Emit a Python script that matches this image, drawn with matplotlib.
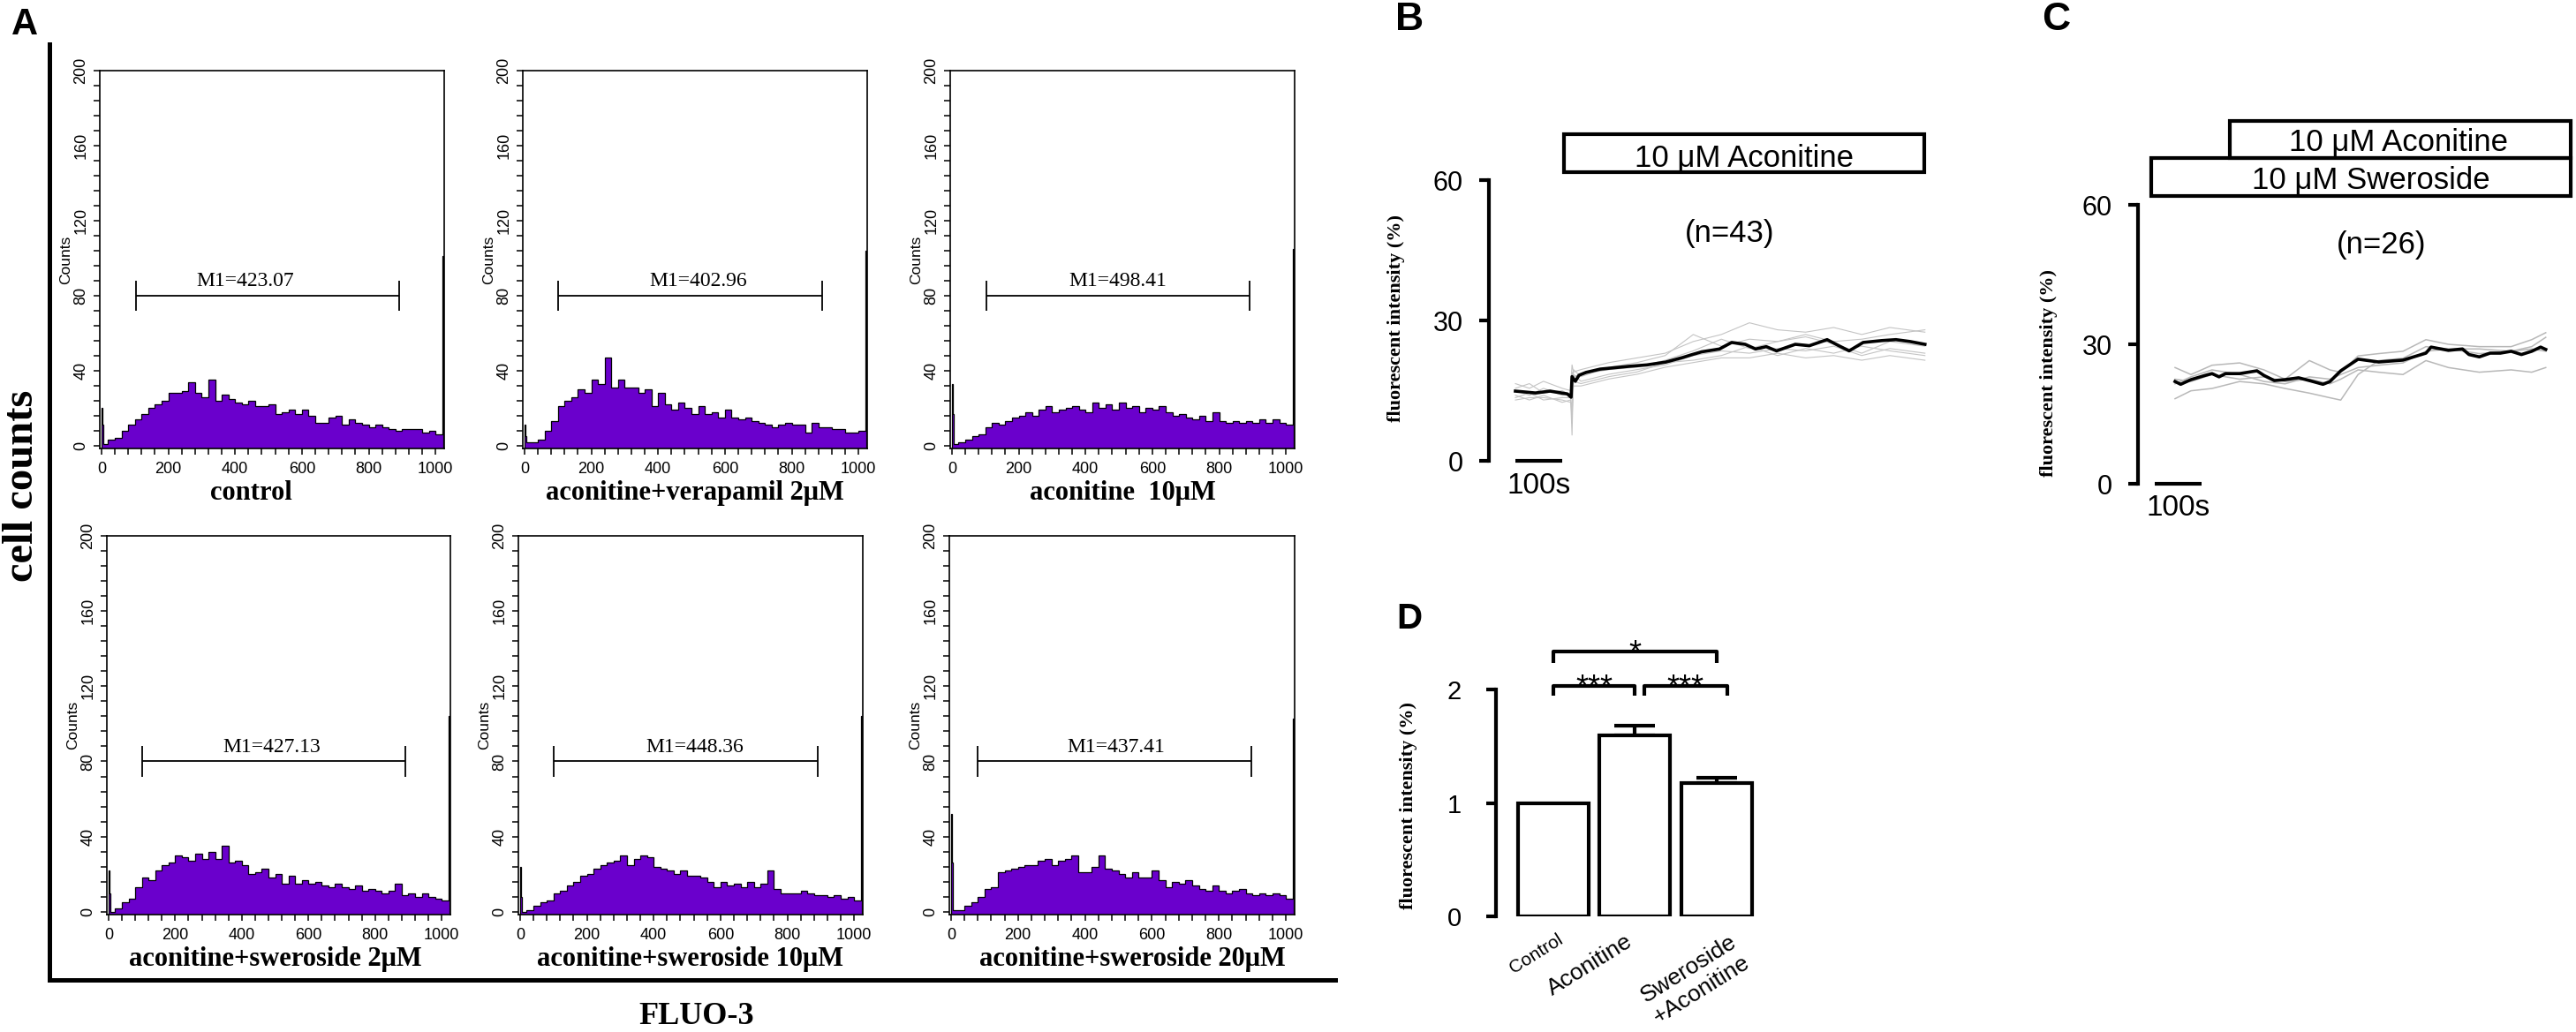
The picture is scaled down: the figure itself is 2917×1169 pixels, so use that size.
import numpy as np
import matplotlib
matplotlib.use("Agg")
import matplotlib.pyplot as plt
from matplotlib.lines import Line2D
from matplotlib.patches import Rectangle
from matplotlib.ticker import MultipleLocator
from matplotlib.transforms import ScaledTranslation

W, H = 2917, 1169
plt.rcParams['font.family'] = ['Liberation Sans', 'DejaVu Sans']
SERIF = ['Liberation Serif', 'DejaVu Serif']

# ---------------- A: FLUO-3 histograms ----------------
# bins: channel 0-3, 3-6, 6-20, then 20-wide bins up to 1020, last channel 1020-1024
edges = [0, 3, 6] + list(range(20, 1021, 20)) + [1024]

counts_control = [20, 11, 1,
                  3, 4, 8, 11, 14, 17, 20, 22, 24,
                  28, 28, 29, 34, 28, 26, 35, 24, 27, 25,
                  23, 22, 24, 21, 21, 22, 17, 18, 19, 17,
                  19, 16, 12, 12, 15, 16, 11, 14, 12, 11,
                  10, 11, 10, 9, 8, 9, 9, 9, 7, 8,
                  6, 101]
counts_verapamil = [11, 5, 2,
                    2, 3, 8, 13, 21, 24, 26, 30, 28,
                    35, 33, 47, 31, 35, 31, 31, 28, 30, 21,
                    28, 22, 19, 23, 20, 17, 21, 17, 18, 15,
                    19, 15, 14, 15, 13, 12, 11, 10, 11, 12,
                    11, 11, 7, 12, 10, 10, 9, 9, 7, 7,
                    8, 104]
counts_aconitine = [33, 17, 1,
                    2, 3, 5, 6, 10, 12, 11, 13, 15,
                    16, 18, 16, 19, 21, 18, 19, 20, 21, 19,
                    18, 23, 20, 22, 19, 23, 20, 21, 18, 20,
                    19, 21, 18, 16, 17, 15, 14, 16, 13, 18,
                    13, 12, 13, 12, 13, 12, 14, 12, 14, 12,
                    11, 105]
counts_swe2 = [22, 10, 0,
               2, 5, 7, 13, 18, 17, 22, 25, 26,
               30, 29, 27, 31, 28, 32, 28, 35, 26, 27,
               25, 20, 21, 23, 18, 20, 15, 19, 15, 17,
               15, 16, 14, 13, 15, 13, 12, 14, 11, 12,
               11, 10, 11, 15, 9, 10, 8, 10, 8, 7,
               6, 104]
counts_swe10 = [24, 8, 0,
                1, 3, 5, 6, 10, 11, 14, 16, 19,
                20, 23, 25, 26, 27, 30, 25, 28, 30, 29,
                24, 23, 22, 20, 22, 19, 19, 18, 16, 13,
                16, 14, 15, 13, 16, 13, 15, 22, 12, 10,
                10, 10, 11, 10, 9, 9, 8, 9, 7, 8,
                6, 104]
counts_swe20 = [52, 26, 1,
                1, 3, 5, 8, 12, 13, 21, 22, 23,
                24, 25, 25, 27, 28, 25, 27, 28, 30, 21,
                21, 24, 30, 23, 22, 20, 18, 21, 18, 18,
                22, 17, 13, 16, 15, 17, 14, 12, 11, 14,
                11, 10, 11, 12, 10, 9, 10, 9, 10, 9,
                7, 103]

hist_counts = [counts_control, counts_verapamil, counts_aconitine,
               counts_swe2, counts_swe10, counts_swe20]
hist_titles = ['control', 'aconitine+verapamil 2μM', 'aconitine  10μM',
               'aconitine+sweroside 2μM', 'aconitine+sweroside 10μM',
               'aconitine+sweroside 20μM']
m1_labels = ['M1=423.07', 'M1=402.96', 'M1=498.41',
             'M1=427.13', 'M1=448.36', 'M1=437.41']
m1_start = [103, 101, 103, 102, 102, 80]
m1_end = [892, 890, 892, 892, 890, 896]

# ---------------- B / C: calcium traces ----------------
b_time = [0, 43, 74, 111, 119, 121, 128, 136, 151, 181, 243, 281, 321, 358, 374, 398,
          436, 462, 491, 513, 536, 558, 598, 628, 666, 691, 713, 743, 783, 813, 843, 875]
b_mean = [14.9, 14.5, 14.9, 14.3, 13.6, 18.0, 17.0, 18.3, 18.9, 19.6, 20.2, 20.5, 21.1, 22.1, 22.6, 23.3,
          23.9, 25.3, 24.9, 23.9, 24.4, 23.5, 24.9, 24.6, 25.9, 24.6, 23.5, 25.3, 25.7, 25.9, 25.5, 24.9]
b_cell_time = [0, 30, 60, 100, 118, 121, 124, 140, 200, 260, 320, 380, 440, 500, 560, 620, 680, 740, 800, 875]
b_cells = [
    [16.5, 15.5, 17.0, 15.5, 15.0, 20.5, 19.0, 19.5, 21.0, 22.0, 23.0, 25.5, 27.0, 29.5, 28.0, 27.5, 28.5, 27.0, 28.5, 27.5],
    [15.0, 14.0, 15.5, 14.0, 14.5, 8.0, 19.5, 18.0, 20.0, 21.0, 22.5, 27.0, 24.5, 26.0, 25.5, 27.0, 25.5, 26.0, 27.0, 28.0],
    [13.5, 14.5, 13.0, 13.5, 13.5, 5.5, 18.5, 17.0, 18.5, 19.5, 20.5, 22.5, 23.5, 23.0, 24.0, 23.5, 24.5, 22.5, 24.0, 23.0],
    [14.0, 13.0, 14.0, 12.5, 13.0, 10.0, 17.0, 16.5, 18.0, 19.0, 21.0, 21.5, 22.5, 24.5, 22.5, 24.0, 23.0, 24.5, 23.5, 22.5],
    [15.5, 16.5, 14.5, 15.0, 14.0, 19.0, 18.0, 18.5, 19.5, 20.0, 21.5, 23.5, 26.0, 24.0, 25.5, 26.5, 25.0, 23.0, 25.5, 24.5],
    [13.0, 13.5, 13.5, 13.0, 12.5, 12.0, 16.0, 16.0, 17.5, 18.5, 20.0, 21.0, 22.0, 22.0, 23.0, 22.0, 22.5, 21.5, 22.5, 21.5],
]

c_time = [0, 12, 34, 64, 79, 94, 108, 138, 175, 190, 212, 235, 264, 287, 316, 331, 354,
          391, 435, 487, 536, 547, 584, 614, 628, 650, 673, 695, 718, 740, 762, 781, 792]
c_mean = [22.0, 21.4, 22.4, 23.3, 23.7, 23.0, 23.7, 23.7, 24.3, 23.3, 22.2, 22.4, 22.8, 22.2, 21.4, 22.0, 24.3,
          26.8, 26.2, 26.6, 28.1, 29.4, 28.7, 29.0, 27.8, 27.3, 28.1, 28.1, 28.5, 27.8, 28.5, 29.4, 28.9]
c_cell_time = [0, 34, 79, 138, 190, 235, 287, 331, 354, 391, 435, 487, 536, 584, 650, 718, 762, 792]
c_cells = [
    [25.0, 23.5, 25.5, 26.0, 24.5, 22.5, 26.5, 24.5, 24.0, 27.5, 28.0, 28.5, 31.0, 30.0, 29.5, 29.5, 31.0, 32.5],
    [18.3, 20.0, 20.5, 22.0, 21.5, 20.5, 19.5, 18.5, 18.0, 23.5, 26.5, 27.0, 29.5, 29.0, 29.0, 28.5, 29.5, 31.5],
    [22.5, 22.0, 23.5, 22.5, 23.0, 22.0, 22.5, 21.5, 22.5, 24.5, 24.0, 23.5, 26.5, 25.0, 24.0, 24.5, 24.0, 25.0],
    [21.5, 23.0, 24.5, 23.5, 22.0, 21.5, 23.0, 22.5, 23.5, 25.0, 25.5, 26.0, 28.5, 29.0, 28.0, 28.5, 29.0, 28.5],
]

# ---------------- D: summary bars ----------------
d_groups = ['Control', 'Aconitine', 'Sweroside\n+Aconitine']
d_means = [1.0, 1.60, 1.175]
d_sem = [0.0, 0.08, 0.05]

fig = plt.figure(figsize=(W / 100, H / 100), dpi=100)


def px_axes(left, top, right, bottom):
    return fig.add_axes([left / W, 1 - bottom / H, (right - left) / W, (bottom - top) / H])


def ftext(x, y, s, **kw):
    fig.text(x / W, 1 - y / H, s, **kw)


purple = '#6a00cc'
hist_boxes = [(113, 80, 503, 508), (592, 80, 982, 508), (1076, 80, 1466, 508),
              (121, 607, 510, 1036), (587, 607, 977, 1036), (1075, 607, 1466, 1036)]
# where each M1 label sits along the channel axis
m1_text_x = [430, 519, 497, 490, 524, 492]
title_x = [0.44, 0.5, 0.5, 0.49, 0.5, 0.53]

for i, counts in enumerate(hist_counts):
    ax = px_axes(*hist_boxes[i])
    ax.stairs(counts, edges, fill=True, color=purple, baseline=-1.5, lw=0)
    ax.stairs(counts, edges, color='black', baseline=-1.5, lw=0.9)
    ax.set_xlim(-5, 1026)
    ax.set_ylim(-1.5, 200)
    ax.xaxis.set_major_locator(MultipleLocator(200))
    ax.xaxis.set_minor_locator(MultipleLocator(40))
    ax.yaxis.set_major_locator(MultipleLocator(40))
    ax.yaxis.set_minor_locator(MultipleLocator(8))
    ax.tick_params(which='both', direction='out', length=5, width=1.1, labelsize=13)
    ax.tick_params(axis='x', pad=6)
    ax.tick_params(axis='y', labelrotation=90, pad=4)
    for lbl in ax.get_yticklabels():
        lbl.set_va('center')
    for sp in ax.spines.values():
        sp.set_linewidth(1.2)
    ax.set_ylabel('Counts', fontsize=12.5, labelpad=1)
    ax.text(title_x[i], -0.085, hist_titles[i], transform=ax.transAxes, ha='center', va='top',
            family=SERIF, fontweight='bold', fontsize=22)
    lo, hi = m1_start[i], m1_end[i]
    ax.hlines(80, lo, hi, color='black', lw=1.3)
    ax.vlines([lo, hi], 72, 88, color='black', lw=1.3)
    ax.text(m1_text_x[i], 85, m1_labels[i], ha='center', va='baseline',
            family=SERIF, fontsize=17)

# panel A frame and labels
fig.add_artist(Line2D([56 / W, 56 / W], [1 - 50 / H, 1 - 1110 / H], color='black', lw=3.6,
                      solid_capstyle='projecting'))
fig.add_artist(Line2D([56 / W, 1512 / W], [1 - 1110 / H, 1 - 1110 / H], color='black', lw=3.6,
                      solid_capstyle='projecting'))
ftext(25, 550, 'cell counts', rotation=90, ha='center', va='center', family=SERIF,
      fontweight='bold', fontsize=35)
ftext(789, 1152, 'FLUO-3', ha='center', va='center', family=SERIF, fontweight='bold', fontsize=26)

# panel letters
ftext(28, 28, 'A', ha='center', va='center', fontweight='bold', fontsize=30)
ftext(1596, 23, 'B', ha='center', va='center', fontweight='bold', fontsize=32)
ftext(2328, 23, 'C', ha='center', va='center', fontweight='bold', fontsize=32)
ftext(1596, 701, 'D', ha='center', va='center', fontweight='bold', fontsize=29)


def style_trace_axes(ax, top):
    for s in ['top', 'right', 'bottom']:
        ax.spines[s].set_visible(False)
    ax.spines['left'].set_linewidth(3)
    ax.spines['left'].set_bounds(0, top)
    ax.set_xticks([])
    ax.tick_params(axis='y', length=8, width=3, labelsize=22, pad=13)


# ---- B ----
ax_b = px_axes(1686, 140.4, 2182.4, 522)
for tr in b_cells:
    ax_b.plot(b_cell_time, tr, color='#c4c4c4', lw=0.8)
ax_b.plot(b_time, b_mean, color='black', lw=2.6)
ax_b.set_xlim(-56.6, 880)
ax_b.set_ylim(0, 72)
ax_b.set_yticks([0, 30, 60])
style_trace_axes(ax_b, 60)
ax_b.plot([0, 100], [0, 0], color='black', lw=3, clip_on=False, solid_capstyle='butt')
ax_b.text(50, -5.3, '100s', ha='center', va='center', fontsize=24, clip_on=False)
ax_b.add_patch(Rectangle((104, 61.7), 770, 8.1, fill=False, lw=3, clip_on=False))
ax_b.text(489, 64.7, '10 μM Aconitine', ha='center', va='center', fontsize=25)
ax_b.text(458.5, 48.5, '(n=43)', ha='center', va='center', fontsize=25)
ftext(1581, 360, 'fluorescent intensity (%)', rotation=90, ha='center', va='center',
      family=SERIF, fontweight='bold', fontsize=16)

# ---- C ----
ax_c = px_axes(2421, 126.7, 2913.5, 548)
for tr in c_cells:
    ax_c.plot(c_cell_time, tr, color='#b8b8b8', lw=1.1)
ax_c.plot(c_time, c_mean, color='black', lw=2.6)
ax_c.set_xlim(-79.2, 850)
ax_c.set_ylim(0, 80)
ax_c.set_yticks([0, 30, 60])
style_trace_axes(ax_c, 60)
ax_c.plot([-43.4, 56.6], [0, 0], color='black', lw=3, clip_on=False, solid_capstyle='butt')
ax_c.text(7.5, -5.3, '100s', ha='center', va='center', fontsize=24, clip_on=False)
ax_c.add_patch(Rectangle((117, 70.1), 728, 7.9, fill=False, lw=3, clip_on=False))
ax_c.add_patch(Rectangle((-51, 61.9), 896, 8.2, fill=False, lw=3, clip_on=False))
ax_c.text(477, 73.4, '10 μM Aconitine', ha='center', va='center', fontsize=25)
ax_c.text(419, 65.3, '10 μM Sweroside', ha='center', va='center', fontsize=25)
ax_c.text(441.5, 51.3, '(n=26)', ha='center', va='center', fontsize=25)
ftext(2320, 423, 'fluorescent intensity (%)', rotation=90, ha='center', va='center',
      family=SERIF, fontweight='bold', fontsize=16)

# ---- D ----
ax_d = px_axes(1694, 717, 1999.5, 1038)
xpos = np.arange(len(d_groups))
ax_d.bar(xpos, d_means, width=0.865, color='white', edgecolor='black', lw=3, zorder=2)
has_err = [k for k in range(len(d_sem)) if d_sem[k] > 0]
ax_d.errorbar(xpos[has_err], np.array(d_means)[has_err],
              yerr=[np.zeros(len(has_err)), np.array(d_sem)[has_err]],
              fmt='none', ecolor='black', elinewidth=3, capsize=16.5, capthick=3, zorder=1)
ax_d.set_xlim(-0.70, 2.6)
ax_d.set_ylim(0, 2.5)
for s in ['top', 'right', 'bottom']:
    ax_d.spines[s].set_visible(False)
ax_d.spines['left'].set_linewidth(3)
ax_d.spines['left'].set_bounds(0, 2)
ax_d.set_yticks([0, 1, 2])
ax_d.tick_params(axis='y', length=8, width=3, labelsize=21, pad=20)
ax_d.set_xticks(xpos)
ax_d.set_xticklabels(d_groups)
ax_d.tick_params(axis='x', length=0, pad=12)
for lbl, fs, dx in zip(ax_d.get_xticklabels(), [15, 19, 19], [4, -11, 14]):
    lbl.set_fontsize(fs)
    lbl.set_rotation(32)
    lbl.set_ha('right')
    lbl.set_va('top')
    lbl.set_rotation_mode('anchor')
    lbl.set_transform(lbl.get_transform() + ScaledTranslation(dx / 100, 0, fig.dpi_scale_trans))

brackets = [(0.0, 1.0, 2.03, 0.085, '***'), (1.11, 2.13, 2.03, 0.085, '***'),
            (0.0, 2.0, 2.335, 0.10, '*')]
for x0, x1, y, leg, stars in brackets:
    ax_d.plot([x0, x0, x1, x1], [y - leg, y, y, y - leg], color='black', lw=3,
              clip_on=False, solid_capstyle='butt')
    ax_d.text((x0 + x1) / 2, y - 0.1, stars, ha='center', va='baseline', fontsize=26)
ftext(1595, 912, 'fluorescent intensity (%)', rotation=90, ha='center', va='center',
      family=SERIF, fontweight='bold', fontsize=16)

fig.savefig('out.png', dpi=100)
